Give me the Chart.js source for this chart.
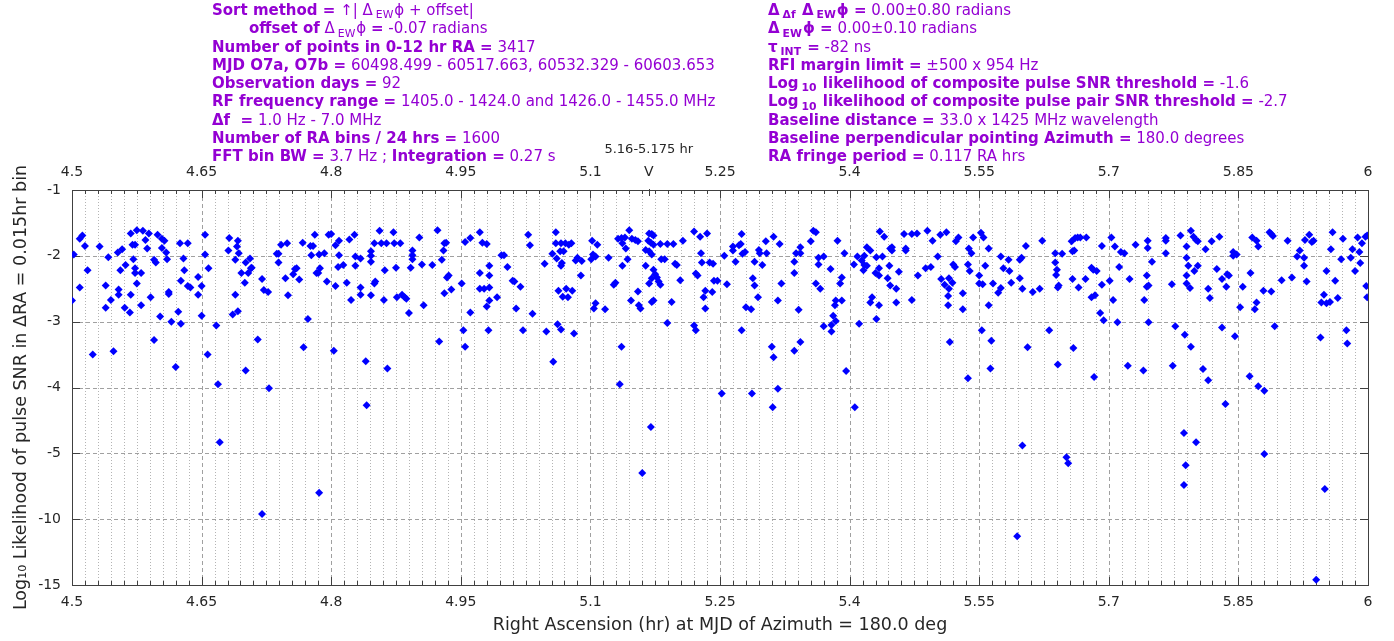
<!DOCTYPE html>
<html><head><meta charset="utf-8">
<script src="https://cdn.jsdelivr.net/npm/chart.js@4.4.1/dist/chart.umd.min.js"></script>
<style>
html,body{margin:0;padding:0;background:#fff;}
#wrap{position:relative;width:1394px;height:641px;overflow:hidden;}
#c{position:absolute;left:0;top:0;}
.notes{position:absolute;top:1px;font-family:"DejaVu Sans";font-size:15px;color:#9400D3;white-space:nowrap;}
.notes div{height:18.3px;line-height:18.3px;}
.notes sub{font-size:0.72em;vertical-align:-0.3em;line-height:0;margin:0 1px 0 3px;}
</style></head>
<body>
<div id="wrap">
<canvas id="c" width="1394" height="641"></canvas>
<div class="notes" style="left:212px">
<div><b>Sort method =</b> ↑| Δ<sub>EW</sub>ϕ + offset|</div>
<div style="padding-left:37px"><b>offset of</b> Δ<sub>EW</sub>ϕ <b>=</b> -0.07 radians</div>
<div><b>Number of points in 0-12 hr RA =</b> 3417</div>
<div><b>MJD O7a, O7b =</b> 60498.499 - 60517.663, 60532.329 - 60603.653</div>
<div><b>Observation days =</b> 92</div>
<div><b>RF frequency range =</b> 1405.0 - 1424.0 and 1426.0 - 1455.0 MHz</div>
<div><b>Δf&nbsp;&nbsp;=</b> 1.0 Hz - 7.0 MHz</div>
<div><b>Number of RA bins / 24 hrs =</b> 1600</div>
<div><b>FFT bin BW =</b> 3.7 Hz ; <b>Integration =</b> 0.27 s</div>
</div>
<div class="notes" style="left:768px">
<div><b>Δ<sub>Δf</sub> Δ<sub>EW</sub>ϕ =</b> 0.00±0.80 radians</div>
<div><b>Δ<sub>EW</sub>ϕ =</b> 0.00±0.10 radians</div>
<div><b>τ<sub>INT</sub> =</b> -82 ns</div>
<div><b>RFI margin limit =</b> ±500 x 954 Hz</div>
<div><b>Log<sub>10</sub> likelihood of composite pulse SNR threshold =</b> -1.6</div>
<div><b>Log<sub>10</sub> likelihood of composite pulse pair SNR threshold =</b> -2.7</div>
<div><b>Baseline distance =</b> 33.0 x 1425 MHz wavelength</div>
<div><b>Baseline perpendicular pointing Azimuth =</b> 180.0 degrees</div>
<div><b>RA fringe period =</b> 0.117 RA hrs</div>
</div>
</div>
<script>
// ---- tick labels ----
const X_TICKS = [4.5, 4.65, 4.8, 4.95, 5.1, 5.25, 5.4, 5.55, 5.7, 5.85, 6];
const X_TICK_LABELS = ['4.5','4.65','4.8','4.95','5.1','5.25','5.4','5.55','5.7','5.85','6'];
const Y_TICKS = [-1, -2, -3, -4, -5, -10, -15];
const MARK_RANGE = [5.16, 5.175];

// ---- data: [RA hr, log10 likelihood] ----
const POINTS_A = [[4.502,-1.98],[4.500,-2.68],[4.509,-1.74],[4.512,-1.69],[4.515,-1.85],[4.518,-2.22],[4.509,-2.48],[4.524,-3.50],[4.532,-1.86],[4.542,-2.02],[4.539,-2.45],[4.539,-2.79],[4.545,-2.67],[4.548,-3.45],[4.553,-1.95],[4.558,-1.90],[4.556,-2.22],[4.562,-2.14],[4.554,-2.51],[4.554,-2.59],[4.561,-2.79],[4.567,-2.86],[4.568,-2.59],[4.568,-1.66],[4.575,-1.61],[4.570,-1.83],[4.573,-1.83],[4.571,-2.05],[4.573,-2.19],[4.573,-2.26],[4.580,-2.26],[4.575,-2.42],[4.580,-2.75],[4.582,-1.62],[4.585,-1.76],[4.587,-1.89],[4.589,-1.66],[4.591,-2.63],[4.595,-3.28],[4.595,-2.06],[4.597,-2.10],[4.599,-1.68],[4.602,-2.92],[4.604,-1.88],[4.604,-1.74],[4.607,-1.77],[4.609,-1.95],[4.610,-2.05],[4.612,-2.55],[4.612,-2.58],[4.615,-3.00],[4.623,-2.85],[4.625,-1.81],[4.626,-2.38],[4.626,-3.03],[4.629,-2.04],[4.630,-2.22],[4.634,-1.81],[4.634,-2.46],[4.637,-2.48],[4.646,-2.32],[4.646,-2.59],[4.650,-2.46],[4.650,-2.91],[4.654,-1.68],[4.654,-1.98],[4.658,-2.19],[4.657,-3.50],[4.667,-3.06],[4.682,-1.73],[4.681,-1.92],[4.689,-2.06],[4.689,-2.59],[4.686,-2.89],[4.692,-2.84],[4.692,-1.77],[4.691,-1.86],[4.693,-1.96],[4.696,-2.26],[4.700,-2.41],[4.701,-2.10],[4.704,-2.26],[4.706,-2.04],[4.707,-2.19],[4.708,-2.18],[4.715,-3.27],[4.720,-2.35],[4.722,-2.52],[4.727,-2.55],[4.737,-1.97],[4.739,-1.97],[4.739,-2.10],[4.742,-1.83],[4.749,-1.81],[4.747,-2.34],[4.750,-2.60],[4.756,-2.28],[4.758,-2.20],[4.760,-2.19],[4.763,-2.36],[4.767,-1.80],[4.768,-3.39],[4.773,-2.96],[4.776,-1.85],[4.777,-1.99],[4.779,-1.85],[4.781,-1.68],[4.783,-2.26],[4.785,-2.26],[4.787,-2.19],[4.792,-1.96],[4.786,-1.98],[4.795,-2.39],[4.797,-1.68],[4.800,-1.67],[4.803,-3.44],[4.805,-1.84],[4.805,-2.46],[4.809,-1.77],[4.809,-1.99],[4.808,-2.17],[4.814,-2.14],[4.818,-2.41],[4.821,-1.75],[4.823,-2.67],[4.827,-1.68],[4.828,-2.01],[4.828,-2.15],[4.834,-2.04],[4.834,-2.48],[4.834,-2.59],[4.846,-1.93],[4.846,-2.00],[4.846,-2.09],[4.846,-2.60],[4.850,-1.81],[4.850,-2.42],[4.851,-2.39],[4.856,-1.62],[4.858,-1.81],[4.861,-2.67],[4.862,-2.22],[4.864,-1.81],[4.872,-1.64],[4.873,-1.81],[4.875,-2.18],[4.876,-2.63]];
const POINTS_B = [[4.880,-1.81],[4.882,-2.59],[4.885,-2.63],[4.887,-2.65],[4.890,-2.87],[4.892,-2.18],[4.894,-1.92],[4.894,-1.99],[4.894,-2.05],[4.902,-1.72],[4.905,-2.13],[4.907,-2.75],[4.917,-2.14],[4.923,-1.61],[4.925,-3.30],[4.928,-2.06],[4.930,-1.92],[4.931,-1.81],[4.933,-1.80],[4.934,-2.33],[4.936,-2.30],[4.939,-2.51],[4.931,-2.57],[4.951,-2.42],[4.953,-3.13],[4.955,-3.38],[4.955,-1.79],[4.961,-1.73],[4.961,-2.86],[4.972,-1.64],[4.975,-1.80],[4.980,-1.82],[4.972,-2.26],[4.983,-2.15],[4.983,-2.30],[4.972,-2.50],[4.977,-2.50],[4.983,-2.48],[4.983,-2.68],[4.980,-2.77],[4.982,-3.13],[4.992,-2.63],[4.997,-1.99],[5.000,-1.99],[5.004,-2.17],[5.010,-2.38],[5.012,-2.39],[5.019,-2.47],[5.014,-2.80],[5.022,-3.13],[5.028,-1.68],[5.030,-1.84],[5.033,-2.88],[5.047,-2.12],[5.049,-3.15],[5.056,-1.97],[5.060,-1.64],[5.061,-2.04],[5.060,-1.81],[5.066,-1.81],[5.071,-1.81],[5.075,-1.83],[5.078,-1.81],[5.065,-1.93],[5.069,-1.93],[5.067,-2.11],[5.066,-2.15],[5.063,-2.53],[5.072,-2.50],[5.079,-2.53],[5.068,-2.62],[5.074,-2.63],[5.062,-3.04],[5.066,-3.12],[5.081,-3.18],[5.083,-2.07],[5.085,-2.03],[5.090,-2.08],[5.089,-2.30],[5.102,-1.77],[5.108,-1.83],[5.103,-1.98],[5.106,-2.01],[5.101,-2.05],[5.121,-2.03],[5.106,-2.72],[5.104,-2.80],[5.117,-2.81],[5.132,-1.74],[5.136,-1.73],[5.140,-1.72],[5.145,-1.61],[5.148,-1.74],[5.152,-1.76],[5.155,-1.78],[5.137,-1.81],[5.141,-1.89],[5.143,-2.05],[5.137,-2.15],[5.129,-2.41],[5.127,-2.44],[5.147,-2.68],[5.155,-2.54],[5.156,-2.75],[5.158,-2.80],[5.136,-3.38],[5.164,-2.15],[5.168,-1.66],[5.171,-1.67],[5.173,-1.69],[5.167,-1.77],[5.170,-1.80],[5.173,-1.83],[5.164,-1.91],[5.168,-1.93],[5.171,-1.98],[5.173,-2.21],[5.175,-2.28],[5.177,-2.33],[5.171,-2.34],[5.168,-2.42],[5.179,-2.39],[5.181,-2.44],[5.173,-2.68],[5.171,-2.70],[5.181,-1.82],[5.189,-1.82],[5.196,-1.82],[5.182,-2.05],[5.186,-2.05],[5.198,-2.12],[5.200,-2.14],[5.194,-2.70],[5.189,-3.02],[5.207,-1.77],[5.204,-2.37],[5.220,-1.63],[5.227,-1.71],[5.235,-1.66],[5.228,-1.96],[5.229,-2.10],[5.222,-2.27],[5.224,-2.30],[5.233,-2.53],[5.231,-2.63],[5.233,-2.80],[5.241,-2.55],[5.238,-2.10],[5.242,-2.12],[5.243,-2.38],[5.247,-2.38],[5.220,-3.06],[5.222,-3.13]];
const POINTS_C = [[5.255,-2.00],[5.258,-2.43],[5.265,-1.86],[5.265,-1.92],[5.268,-2.09],[5.272,-1.84],[5.274,-1.82],[5.275,-1.67],[5.276,-1.97],[5.279,-1.94],[5.275,-3.13],[5.280,-2.78],[5.286,-2.81],[5.288,-2.34],[5.290,-2.45],[5.290,-2.09],[5.295,-1.91],[5.296,-1.96],[5.294,-2.63],[5.299,-2.14],[5.303,-1.78],[5.304,-1.96],[5.312,-1.71],[5.319,-1.82],[5.321,-2.42],[5.317,-2.68],[5.310,-3.38],[5.336,-2.09],[5.336,-2.26],[5.338,-1.96],[5.343,-1.87],[5.343,-1.96],[5.341,-2.82],[5.343,-3.31],[5.336,-3.44],[5.355,-1.78],[5.358,-1.62],[5.361,-1.64],[5.364,-2.03],[5.370,-2.01],[5.364,-2.13],[5.361,-2.42],[5.366,-2.50],[5.370,-3.07],[5.378,-2.20],[5.379,-3.05],[5.379,-3.15],[5.381,-2.91],[5.384,-2.68],[5.383,-2.75],[5.384,-2.99],[5.386,-1.77],[5.391,-2.33],[5.389,-2.42],[5.391,-2.68],[5.394,-1.96],[5.405,-2.13],[5.409,-2.01],[5.411,-3.03],[5.414,-2.07],[5.417,-2.00],[5.420,-1.87],[5.424,-1.92],[5.417,-2.14],[5.420,-2.15],[5.416,-2.22],[5.426,-2.63],[5.424,-2.71],[5.430,-2.26],[5.431,-2.02],[5.434,-2.19],[5.434,-2.30],[5.434,-2.75],[5.431,-2.96],[5.435,-1.63],[5.440,-1.71],[5.438,-2.01],[5.444,-2.34],[5.447,-1.89],[5.449,-1.87],[5.449,-1.92],[5.446,-2.15],[5.447,-2.45],[5.454,-2.50],[5.454,-2.71],[5.457,-2.24],[5.463,-1.67],[5.465,-1.89],[5.465,-1.92],[5.472,-1.67],[5.478,-1.66],[5.472,-2.67],[5.479,-2.30],[5.490,-1.62],[5.496,-1.77],[5.488,-2.19],[5.494,-2.17],[5.502,-2.01],[5.505,-1.68],[5.512,-1.64],[5.506,-2.35],[5.510,-2.44],[5.515,-2.34],[5.515,-2.50],[5.514,-2.61],[5.514,-2.75],[5.519,-2.41],[5.516,-3.31],[5.520,-2.13],[5.522,-2.17],[5.523,-1.78],[5.526,-1.72],[5.531,-2.57],[5.531,-2.81],[5.538,-1.89],[5.541,-1.96],[5.537,-2.13],[5.539,-2.23],[5.543,-1.72],[5.552,-1.65],[5.555,-1.72],[5.561,-1.89],[5.550,-2.30],[5.550,-2.42],[5.554,-2.43],[5.557,-2.15],[5.553,-3.13],[5.564,-3.29],[5.561,-2.75],[5.566,-2.42],[5.572,-2.56],[5.575,-2.49],[5.575,-2.01],[5.578,-2.19],[5.584,-2.06],[5.585,-2.23],[5.587,-2.41],[5.597,-2.34],[5.597,-2.06],[5.599,-2.03],[5.600,-2.50],[5.604,-1.85],[5.606,-3.39],[5.612,-2.55],[5.620,-2.50],[5.623,-1.77]];
const POINTS_D = [[5.631,-3.13],[5.638,-1.96],[5.638,-2.10],[5.640,-2.21],[5.639,-2.29],[5.642,-2.45],[5.641,-2.48],[5.646,-1.97],[5.657,-1.78],[5.661,-1.73],[5.664,-1.72],[5.667,-1.72],[5.674,-1.72],[5.658,-1.93],[5.660,-1.92],[5.658,-2.35],[5.665,-2.48],[5.673,-2.35],[5.659,-3.40],[5.680,-2.18],[5.682,-2.21],[5.686,-2.23],[5.680,-2.63],[5.684,-2.60],[5.690,-2.87],[5.692,-1.85],[5.692,-2.44],[5.694,-2.98],[5.701,-2.38],[5.705,-2.67],[5.703,-1.72],[5.707,-1.86],[5.710,-3.01],[5.712,-2.17],[5.714,-1.94],[5.718,-1.96],[5.724,-2.35],[5.731,-1.83],[5.741,-2.67],[5.744,-2.30],[5.744,-2.47],[5.746,-2.45],[5.745,-1.77],[5.745,-1.88],[5.746,-3.01],[5.750,-2.09],[5.766,-1.73],[5.766,-1.77],[5.766,-1.96],[5.773,-2.43],[5.777,-3.07],[5.783,-1.69],[5.788,-3.20],[5.790,-1.86],[5.790,-2.03],[5.792,-2.15],[5.790,-2.30],[5.790,-2.42],[5.794,-2.49],[5.795,-3.38],[5.795,-1.62],[5.798,-1.71],[5.801,-1.76],[5.803,-1.78],[5.799,-2.23],[5.803,-2.15],[5.812,-1.90],[5.815,-2.50],[5.817,-2.64],[5.819,-1.78],[5.828,-1.71],[5.825,-2.20],[5.831,-2.35],[5.837,-2.28],[5.839,-2.30],[5.836,-2.47],[5.831,-3.09],[5.844,-1.94],[5.844,-2.00],[5.848,-1.98],[5.846,-3.22],[5.852,-2.78],[5.855,-2.47],[5.864,-2.26],[5.866,-1.72],[5.871,-1.77],[5.873,-1.86],[5.869,-2.81],[5.871,-2.71],[5.879,-2.53],[5.886,-1.64],[5.888,-1.67],[5.890,-1.70],[5.888,-2.54],[5.892,-3.07],[5.900,-2.37],[5.907,-1.77],[5.912,-2.33],[5.918,-2.01],[5.921,-1.92],[5.926,-2.03],[5.926,-2.15],[5.929,-2.39],[5.927,-1.76],[5.932,-1.68],[5.935,-1.79],[5.937,-1.77],[5.945,-3.24],[5.946,-2.71],[5.949,-2.59],[5.952,-2.23],[5.952,-2.72],[5.956,-2.70],[5.959,-1.64],[5.957,-1.90],[5.962,-2.38],[5.965,-2.64],[5.969,-2.05],[5.971,-1.74],[5.975,-3.13],[5.976,-3.33],[5.980,-2.03],[5.982,-1.90],[5.985,-2.23],[5.988,-1.72],[5.990,-1.94],[5.991,-2.11],[5.993,-1.81],[5.997,-1.71],[5.999,-1.69],[5.998,-2.46],[5.999,-2.63]];
const POINTS_LOW = [[4.620,-3.69],[4.669,-3.95],[4.671,-4.83],[4.701,-3.74],[4.728,-4.01],[4.720,-9.6],[4.786,-8.0],[4.840,-3.60],[4.841,-4.27],[4.865,-3.71],[5.057,-3.61],[5.134,-3.95],[5.170,-4.60],[5.160,-6.5],[5.252,-4.09],[5.287,-4.09],[5.312,-3.54],[5.311,-4.30],[5.317,-4.02],[5.396,-3.75],[5.406,-4.30],[5.537,-3.86],[5.563,-3.71],[5.594,-11.3],[5.600,-4.88],[5.641,-3.65],[5.651,-5.3],[5.653,-5.75],[5.683,-3.84],[5.722,-3.67],[5.740,-3.74],[5.774,-3.67],[5.787,-4.69],[5.789,-5.9],[5.787,-7.4],[5.801,-4.83],[5.809,-3.72],[5.815,-3.89],[5.835,-4.25],[5.863,-3.83],[5.873,-3.98],[5.880,-4.05],[5.880,-5.06],[5.940,-14.6],[5.950,-7.7]];

// piecewise axis: -1..-5 in steps of 1, then -5..-15 in steps of 5 (same spacing)
function toAxis(v){ return v >= -5 ? v : -5 + (v + 5) / 5; }
const X_MINOR_STEP = 0.015;

const ALL = [].concat(POINTS_A, POINTS_B, POINTS_C, POINTS_D, POINTS_LOW);
const FONT = 'DejaVu Sans';
const TXT = '#262626';

const gnuGrid = {
  id: 'gnuGrid',
  beforeDatasetsDraw(chart){
    const {ctx, chartArea: a, scales: {x, y}} = chart;
    ctx.save();
    ctx.lineWidth = 1;
    const line = (x1,y1,x2,y2)=>{ctx.beginPath();ctx.moveTo(x1,y1);ctx.lineTo(x2,y2);ctx.stroke();};
    const nMinor = Math.round((X_TICKS[X_TICKS.length-1]-X_TICKS[0])/X_MINOR_STEP);
    // minor vertical grid
    ctx.strokeStyle = '#b4b4b4'; ctx.setLineDash([1,2]);
    for (let k=1;k<nMinor;k++){ if (k%10===0) continue;
      const px = Math.round(x.getPixelForValue(X_TICKS[0]+k*X_MINOR_STEP))+0.5; line(px,a.top,px,a.bottom); }
    // major grid
    ctx.strokeStyle = '#a0a0a0'; ctx.setLineDash([4,3]);
    X_TICKS.forEach(v=>{ const px = Math.round(x.getPixelForValue(v))+0.5; line(px,a.top,px,a.bottom); });
    Y_TICKS.forEach(v=>{ const py = Math.round(y.getPixelForValue(toAxis(v)))+0.5; line(a.left,py,a.right,py); });
    // ticks (inward)
    ctx.setLineDash([]); ctx.strokeStyle = '#404040';
    for (let k=0;k<=nMinor;k++){
      const px = Math.round(x.getPixelForValue(X_TICKS[0]+k*X_MINOR_STEP))+0.5;
      const L = (k%10===0)?8:4;
      line(px,a.bottom,px,a.bottom-L); line(px,a.top,px,a.top+L);
    }
    Y_TICKS.forEach(v=>{ const py = Math.round(y.getPixelForValue(toAxis(v)))+0.5;
      line(a.left,py,a.left+8,py); line(a.right,py,a.right-8,py); });
    // marker tick
    const mx = Math.round(x.getPixelForValue((MARK_RANGE[0]+MARK_RANGE[1])/2))+0.5;
    line(mx,a.top-1,mx,a.top+6);
    // border
    ctx.strokeStyle = '#404040';
    ctx.strokeRect(Math.round(a.left)+0.5, Math.round(a.top)+0.5, Math.round(a.right-a.left), Math.round(a.bottom-a.top));
    ctx.restore();
  },
  afterDraw(chart){
    const {ctx, chartArea: a, scales: {x}} = chart;
    const mx = x.getPixelForValue((MARK_RANGE[0]+MARK_RANGE[1])/2);
    ctx.save();
    ctx.fillStyle = TXT; ctx.textAlign = 'center'; ctx.textBaseline = 'middle';
    ctx.font = '13px "'+FONT+'"';
    ctx.fillText(MARK_RANGE[0]+'-'+MARK_RANGE[1]+' hr', mx, 150);
    ctx.font = '14px "'+FONT+'"';
    ctx.fillText('V', mx, 172);
    ctx.restore();
  }
};

const xTicksCfg = {
  color: TXT, font:{family:FONT, size:14}, autoSkip:false, maxRotation:0, padding:9,
  callback:(v,i)=>X_TICK_LABELS[i]
};

new Chart(document.getElementById('c'), {
  type: 'scatter',
  data: { datasets: [{
    data: ALL.map(p=>({x:p[0], y:toAxis(p[1])})),
    backgroundColor: '#0000ff', borderColor: '#0000ff', borderWidth: 0,
    pointStyle: 'rectRot', pointRadius: 4, pointHoverRadius: 4
  }]},
  options: {
    responsive: false, animation: false, events: [],
    layout: { padding: { left: 0, right: 26, top: 0, bottom: 0 } },
    plugins: { legend: {display:false}, tooltip: {enabled:false} },
    scales: {
      x: {
        type:'linear', position:'bottom', min:X_TICKS[0], max:X_TICKS[X_TICKS.length-1],
        afterBuildTicks:s=>{ s.ticks = X_TICKS.map(v=>({value:v})); },
        afterFit:s=>{ s.height = 56; },
        grid:{display:false, drawTicks:false}, border:{display:false},
        ticks: xTicksCfg,
        title:{display:true, text:'Right Ascension (hr) at MJD of Azimuth = 180.0 deg', color:TXT,
               font:{family:FONT, size:17.5}, padding:{top:0, bottom:5}}
      },
      x2: {
        type:'linear', position:'top', min:X_TICKS[0], max:X_TICKS[X_TICKS.length-1],
        afterBuildTicks:s=>{ s.ticks = X_TICKS.map(v=>({value:v})); },
        afterFit:s=>{ s.height = 190; },
        grid:{display:false, drawTicks:false}, border:{display:false},
        ticks: xTicksCfg
      },
      y: {
        type:'linear', position:'left', min:toAxis(Y_TICKS[Y_TICKS.length-1]), max:toAxis(Y_TICKS[0]),
        afterBuildTicks:s=>{ s.ticks = Y_TICKS.map(v=>({value:toAxis(v)})); },
        afterFit:s=>{ s.width = 72; },
        grid:{display:false, drawTicks:false}, border:{display:false},
        ticks:{ color:TXT, font:{family:FONT, size:14}, padding:11, autoSkip:false,
                callback:(v,i)=>String(Y_TICKS[i]) },
        title:{display:true, text:'Log₁₀ Likelihood of pulse SNR in ΔRA = 0.015hr bin', color:TXT,
               font:{family:FONT, size:17.5}, padding:{top:11, bottom:0}}
      }
    }
  },
  plugins: [gnuGrid]
});
</script>
</body></html>
